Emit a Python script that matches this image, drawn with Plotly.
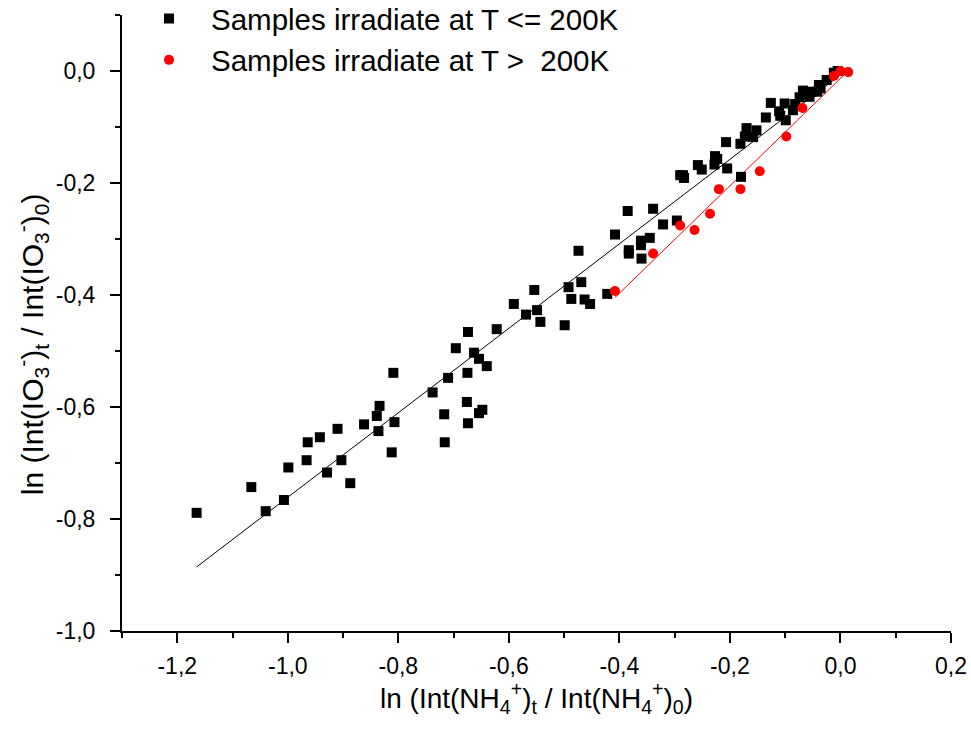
import numpy as np
import plotly.graph_objects as go

# Samples irradiated at T <= 200K (black squares)
low_x = [-1.165, -1.066, -1.040, -1.007, -0.999, -0.966, -0.964, -0.942, -0.929, -0.910,
         -0.903, -0.887, -0.862, -0.839, -0.834, -0.836, -0.809, -0.807, -0.812, -0.738,
         -0.717, -0.716, -0.710, -0.696, -0.674, -0.676, -0.675, -0.674, -0.663, -0.654,
         -0.654, -0.648, -0.640, -0.622, -0.591, -0.569, -0.549, -0.543, -0.554, -0.499,
         -0.492, -0.487, -0.474, -0.469, -0.463, -0.453, -0.422, -0.408, -0.385, -0.383,
         -0.383, -0.361, -0.361, -0.345, -0.360, -0.339, -0.321, -0.296, -0.290, -0.285,
         -0.283, -0.258, -0.251, -0.227, -0.223, -0.228, -0.205, -0.207, -0.181, -0.180,
         -0.173, -0.170, -0.158, -0.152, -0.135, -0.126, -0.111, -0.109, -0.101, -0.099,
         -0.086, -0.082, -0.074, -0.068, -0.065, -0.056, -0.053, -0.039, -0.036, -0.042,
         -0.025, -0.012, -0.005]
low_y = [-0.789, -0.743, -0.786, -0.766, -0.708, -0.695, -0.663, -0.654, -0.717, -0.639,
         -0.695, -0.736, -0.631, -0.616, -0.598, -0.643, -0.539, -0.627, -0.681, -0.574,
         -0.613, -0.663, -0.548, -0.495, -0.466, -0.591, -0.539, -0.629, -0.503, -0.514,
         -0.611, -0.605, -0.527, -0.461, -0.416, -0.435, -0.427, -0.448, -0.391, -0.454,
         -0.386, -0.407, -0.321, -0.377, -0.408, -0.416, -0.398, -0.292, -0.250, -0.320,
         -0.326, -0.303, -0.311, -0.298, -0.335, -0.246, -0.274, -0.267, -0.186, -0.186,
         -0.191, -0.168, -0.176, -0.152, -0.157, -0.167, -0.174, -0.127, -0.130, -0.189,
         -0.117, -0.102, -0.118, -0.106, -0.083, -0.057, -0.072, -0.080, -0.058, -0.088,
         -0.070, -0.059, -0.047, -0.035, -0.041, -0.046, -0.037, -0.025, -0.031, -0.037,
         -0.016, -0.003, 0.000]

# Samples irradiated at T > 200K (red circles)
high_x = [-0.408, -0.339, -0.290, -0.264, -0.236, -0.220, -0.181, -0.146, -0.098, -0.069,
          -0.012, 0.000, 0.014]
high_y = [-0.393, -0.326, -0.276, -0.284, -0.255, -0.211, -0.211, -0.179, -0.117, -0.066,
          -0.009, 0.000, -0.002]

x_tick_vals = [-1.2, -1.0, -0.8, -0.6, -0.4, -0.2, 0.0, 0.2]
x_tick_text = ["-1,2", "-1,0", "-0,8", "-0,6", "-0,4", "-0,2", "0,0", "0,2"]
y_tick_vals = [-1.0, -0.8, -0.6, -0.4, -0.2, 0.0]
y_tick_text = ["-1,0", "-0,8", "-0,6", "-0,4", "-0,2", "0,0"]

label_low = "Samples irradiate at T <= 200K"
label_high = "Samples irradiate at T >  200K"
x_title = "ln (Int(NH<sub>4</sub><sup>+</sup>)<sub>t</sub> / Int(NH<sub>4</sub><sup>+</sup>)<sub>0</sub>)"
y_title = "ln (Int(IO<sub>3</sub><sup>-</sup>)<sub>t</sub> / Int(IO<sub>3</sub><sup>-</sup>)<sub>0</sub>)"

FONT = "Liberation Sans, Arial, sans-serif"

def fit_line(xs, ys):
    b, a = np.polyfit(xs, ys, 1)
    xx = np.array([min(xs), max(xs)])
    return xx, a + b * xx

fig = go.Figure()

lx, ly = fit_line(low_x, low_y)
hx, hy = fit_line(high_x, high_y)

fig.add_trace(go.Scatter(x=lx, y=ly, mode="lines", line=dict(color="black", width=1),
                         showlegend=False, hoverinfo="skip"))
fig.add_trace(go.Scatter(x=hx, y=hy, mode="lines", line=dict(color="red", width=1),
                         showlegend=False, hoverinfo="skip"))
fig.add_trace(go.Scatter(x=low_x, y=low_y, mode="markers", name=label_low,
                         marker=dict(symbol="square", size=10, color="black")))
fig.add_trace(go.Scatter(x=high_x, y=high_y, mode="markers", name=label_high,
                         marker=dict(symbol="circle", size=10, color="red")))

axis_common = dict(
    showgrid=False, zeroline=False, showline=True, linecolor="black", linewidth=2,
    ticks="outside", ticklen=10, tickwidth=2, tickcolor="black",
    tickfont=dict(family=FONT, size=23, color="black"),
    mirror=False,
)

fig.update_xaxes(range=[-1.3, 0.2], tickmode="array", tickvals=x_tick_vals,
                 ticktext=x_tick_text,
                 minor=dict(dtick=0.1, tick0=0, ticks="outside", ticklen=5, tickwidth=2,
                            tickcolor="black", showgrid=False),
                 ticklabelstandoff=3, **axis_common)
fig.update_yaxes(range=[-1.0, 0.1], tickmode="array", tickvals=y_tick_vals,
                 ticktext=y_tick_text,
                 minor=dict(dtick=0.1, tick0=0, ticks="outside", ticklen=5, tickwidth=2,
                            tickcolor="black", showgrid=False),
                 ticklabelstandoff=10, **axis_common)

fig.update_layout(
    width=971, height=737,
    margin=dict(l=122, r=20, t=15, b=106, autoexpand=False),
    paper_bgcolor="white", plot_bgcolor="white",
    font=dict(family=FONT, color="black"),
    legend=dict(x=0.006, y=1.036, xanchor="left", yanchor="top", itemwidth=74,
                bgcolor="rgba(0,0,0,0)", font=dict(family=FONT, size=29.5, color="black"),
                itemsizing="trace"),
    annotations=[
        dict(text=x_title, x=0.5, y=-0.109, xref="paper", yref="paper",
             xanchor="center", yanchor="middle", showarrow=False,
             font=dict(family=FONT, size=28, color="black")),
        dict(text=y_title, x=-0.109, y=0.465, xref="paper", yref="paper",
             xanchor="center", yanchor="middle", showarrow=False, textangle=-90,
             font=dict(family=FONT, size=30, color="black")),
    ],
)

fig.write_html(
    "out.html",
    config={"displayModeBar": False},
    post_script="document.body.style.margin='0';document.body.style.overflow='hidden';",
)
